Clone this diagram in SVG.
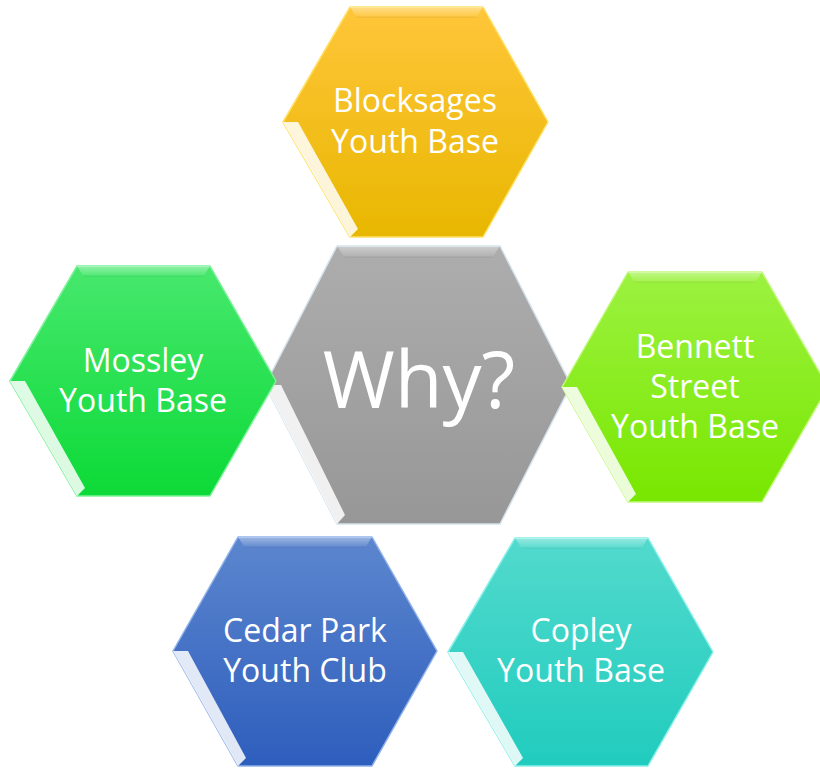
<svg xmlns="http://www.w3.org/2000/svg" width="820" height="768" viewBox="0 0 820 768">
  <defs>
    <linearGradient id="gGray" x1="0" y1="0" x2="0" y2="1"><stop offset="0" stop-color="#ADADAD"/><stop offset="1" stop-color="#979797"/></linearGradient>
    <linearGradient id="gYellow" x1="0" y1="0" x2="0" y2="1"><stop offset="0" stop-color="#FFC63A"/><stop offset="1" stop-color="#E8B700"/></linearGradient>
    <linearGradient id="gGreen" x1="0" y1="0" x2="0" y2="1"><stop offset="0" stop-color="#47E86D"/><stop offset="1" stop-color="#0CDA37"/></linearGradient>
    <linearGradient id="gLime" x1="0" y1="0" x2="0" y2="1"><stop offset="0" stop-color="#9CF240"/><stop offset="1" stop-color="#78E700"/></linearGradient>
    <linearGradient id="gBlue" x1="0" y1="0" x2="0" y2="1"><stop offset="0" stop-color="#5C86CE"/><stop offset="1" stop-color="#2E5EBD"/></linearGradient>
    <linearGradient id="gTeal" x1="0" y1="0" x2="0" y2="1"><stop offset="0" stop-color="#52DACD"/><stop offset="1" stop-color="#20CCBE"/></linearGradient>
    <linearGradient id="gTop" x1="0" y1="0" x2="0" y2="1"><stop offset="0" stop-color="#FFFFFF" stop-opacity="0.4"/><stop offset="0.8" stop-color="#FFFFFF" stop-opacity="0.1"/><stop offset="1" stop-color="#000000" stop-opacity="0.05"/></linearGradient>
  </defs>
  <style>
    .hex { stroke-width: 1.5; stroke-linejoin: round; }
    .top { fill: url(#gTop); }
    .side { fill: #FFFFFF; fill-opacity: 0.85; }
    .lbl { font-family: "Open Sans", "Liberation Sans", sans-serif; font-size: 32px; fill: #FFFFFF; text-anchor: middle; }
    .big { font-family: "Open Sans", "Liberation Sans", sans-serif; font-size: 78px; fill: #FFFFFF; text-anchor: middle; }
  </style>
  <rect width="820" height="768" fill="#FFFFFF"/>

  <g id="why">
    <polygon class="hex" points="265,385 337,246 500,246 571,385 500,524 337,524" fill="url(#gGray)" stroke="#D4E2EC"/>
    <polygon class="top" points="337,246 500,246 492,258 345,258"/>
    <polygon class="side" points="265,385 281,385 345,515 337,524"/>
    <text class="big" x="419" y="408">Why?</text>
  </g>

  <g id="blocksages">
    <polygon class="hex" points="283,122 350,7 483,7 548,122 483,237 350,237" fill="url(#gYellow)" stroke="#FFE066"/>
    <polygon class="top" points="350,7 483,7 476,18 357,18"/>
    <polygon class="side" points="283,122 298,122 358,229 350,237"/>
    <text class="lbl" x="415" y="112">Blocksages</text>
    <text class="lbl" x="415" y="153">Youth Base</text>
  </g>

  <g id="mossley">
    <polygon class="hex" points="10,381 77,266 210,266 276,381 210,496 77,496" fill="url(#gGreen)" stroke="#7DF29A"/>
    <polygon class="top" points="77,266 210,266 203,277 84,277"/>
    <polygon class="side" points="10,381 25,381 85,488 77,496"/>
    <text class="lbl" x="143" y="372">Mossley</text>
    <text class="lbl" x="143" y="412">Youth Base</text>
  </g>

  <g id="bennett">
    <polygon class="hex" points="562,387 628,272 762,272 828,387 762,502 628,502" fill="url(#gLime)" stroke="#C4F77F"/>
    <polygon class="top" points="628,272 762,272 755,283 635,283"/>
    <polygon class="side" points="562,387 577,387 636,494 628,502"/>
    <text class="lbl" x="695" y="358">Bennett</text>
    <text class="lbl" x="695" y="398">Street</text>
    <text class="lbl" x="695" y="438">Youth Base</text>
  </g>

  <g id="cedar">
    <polygon class="hex" points="173,651 238,537 372,537 437,651 372,766 238,766" fill="url(#gBlue)" stroke="#8FB2EA"/>
    <polygon class="top" points="238,537 372,537 365,548 245,548"/>
    <polygon class="side" points="173,651 188,651 246,758 238,766"/>
    <text class="lbl" x="305" y="642">Cedar Park</text>
    <text class="lbl" x="305" y="682">Youth Club</text>
  </g>

  <g id="copley">
    <polygon class="hex" points="448,652 515,538 648,538 713,652 648,766 515,766" fill="url(#gTeal)" stroke="#8AF0E8"/>
    <polygon class="top" points="515,538 648,538 641,549 522,549"/>
    <polygon class="side" points="448,652 463,652 523,758 515,766"/>
    <text class="lbl" x="581" y="642">Copley</text>
    <text class="lbl" x="581" y="682">Youth Base</text>
  </g>

  <g id="connectors"/>
</svg>
